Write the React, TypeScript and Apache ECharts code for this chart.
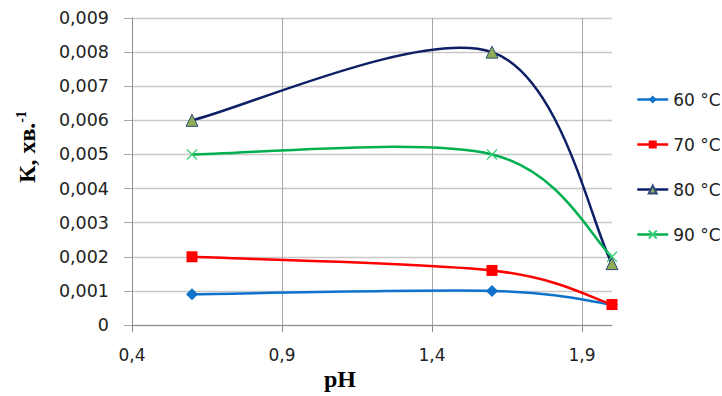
import React, { useEffect, useRef } from "react";
import * as echarts from "echarts";

const pH = [0.6, 1.6, 2.0];
const k60 = [0.0009, 0.001, 0.0006];
const k70 = [0.002, 0.0016, 0.0006];
const k80 = [0.006, 0.008, 0.0018];
const k90 = [0.005, 0.005, 0.002];
const seriesNames = ["60 °C", "70 °C", "80 °C", "90 °C"];
const seriesValues = [k60, k70, k80, k90];
const lineColors = ["#0f73cc", "#ff0000", "#0e1f66", "#00b050"];
const xTicks = [0.4, 0.9, 1.4, 1.9];

const X_SYMBOL = "path://M0,0L10,10M10,0L0,10";

export default function App() {
  const ref = useRef<HTMLDivElement>(null);
  useEffect(() => {
    if (!ref.current) return;
    const chart = echarts.init(ref.current, null, { renderer: "svg" });
    const pts = (ys: number[]) => pH.map((x, i) => [x, ys[i]]);
    const font = "DejaVu Sans";

    // Excel-style smoothed line (Catmull-Rom as cubic Bezier), drawn per segment
    const curveSeries = (ys: number[], color: string, idx: number) => ({
      name: "curve" + idx,
      type: "custom",
      z: 2,
      data: pts(ys),
      renderItem: (params: any, api: any) => {
        const i = params.dataIndex;
        const n = ys.length;
        if (i >= n - 1) return null;
        const P = (j: number) => {
          const jj = Math.max(0, Math.min(n - 1, j));
          return api.coord([pH[jj], ys[jj]]);
        };
        const p0 = P(i - 1), p1 = P(i), p2 = P(i + 1), p3 = P(i + 2);
        return {
          type: "bezierCurve",
          shape: {
            x1: p1[0], y1: p1[1],
            cpx1: p1[0] + (p2[0] - p0[0]) / 6,
            cpy1: p1[1] + (p2[1] - p0[1]) / 6,
            cpx2: p2[0] - (p3[0] - p1[0]) / 6,
            cpy2: p2[1] - (p3[1] - p1[1]) / 6,
            x2: p2[0], y2: p2[1],
          },
          style: { stroke: color, lineWidth: 2.5, fill: null },
        };
      },
    });

    const markerDefs = [
      { symbol: "diamond", size: 12, itemStyle: { color: lineColors[0] } },
      { symbol: "rect", size: 11, itemStyle: { color: lineColors[1] } },
      { symbol: "triangle", size: 12, itemStyle: { color: "#8fac57", borderColor: "#2f4a7a", borderWidth: 1 } },
      { symbol: X_SYMBOL, size: 10, itemStyle: { color: "transparent", borderColor: "#3ccf7a", borderWidth: 1.3 } },
    ];

    const markerSeries = seriesNames.map((name, k) => ({
      name,
      type: "line",
      z: 3,
      data: pts(seriesValues[k]),
      symbol: markerDefs[k].symbol,
      symbolSize: markerDefs[k].size,
      showSymbol: true,
      lineStyle: { color: lineColors[k], width: 2.5, opacity: 0 },
      itemStyle: markerDefs[k].itemStyle,
    }));

    chart.setOption({
      animation: false,
      backgroundColor: "#ffffff",
      grid: { left: 132, right: 110, top: 18, bottom: 71, containLabel: false },
      xAxis: {
        type: "value",
        min: 0.4,
        max: 2.0,
        interval: 0.5,
        axisLine: { show: true, lineStyle: { color: "#8c8c8c" } },
        axisTick: { show: true, length: 7, customValues: xTicks, lineStyle: { color: "#8c8c8c" } },
        splitLine: { show: true, lineStyle: { color: "#a6a6a6", width: 1 } },
        axisLabel: {
          customValues: xTicks,
          margin: 21,
          fontFamily: font,
          fontSize: 17,
          color: "#222",
          formatter: (v: number) => v.toFixed(1).replace(".", ","),
        },
      },
      yAxis: {
        type: "value",
        min: 0,
        max: 0.009,
        interval: 0.001,
        axisLine: { show: true, lineStyle: { color: "#8c8c8c" } },
        axisTick: { show: true, length: 8, lineStyle: { color: "#a6a6a6" } },
        splitLine: { show: true, lineStyle: { color: "#c8c8c8", width: 1.4 } },
        axisLabel: {
          margin: 23,
          fontFamily: font,
          fontSize: 17.5,
          color: "#222",
          formatter: (v: number) => (Math.abs(v) < 1e-9 ? "0" : v.toFixed(3).replace(".", ",")),
        },
      },
      graphic: [
        {
          type: "text",
          x: 27,
          y: 147,
          rotation: Math.PI / 2,
          style: {
            text: "{a|К, хв.}{s|-1}",
            align: "center",
            verticalAlign: "middle",
            rich: {
              a: { fontFamily: "Liberation Serif", fontWeight: "bold", fontSize: 24, fill: "#000" },
              s: { fontFamily: "Liberation Serif", fontWeight: "bold", fontSize: 14, fill: "#000", verticalAlign: "top", padding: [0, 0, 12, 0] },
            },
          },
        },
        {
          type: "text",
          x: 340,
          y: 379,
          style: {
            text: "pH",
            align: "center",
            verticalAlign: "middle",
            fontFamily: "Liberation Serif",
            fontWeight: "bold",
            fontSize: 24,
            fill: "#000",
          },
        },
      ],
      legend: {
        orient: "vertical",
        left: 636,
        top: 91,
        padding: 0,
        itemGap: 28,
        itemWidth: 31,
        itemHeight: 10,
        textStyle: { fontFamily: font, fontSize: 17, color: "#222" },
        data: seriesNames.map((name, k) => ({
          name,
          lineStyle: { color: lineColors[k], width: 2.5, opacity: 1 },
        })),
      },
      series: [
        ...seriesValues.map((ys, k) => curveSeries(ys, lineColors[k], k)),
        ...markerSeries,
      ],
    });
    return () => chart.dispose();
  }, []);
  return <div ref={ref} style={{ width: 722, height: 396, position: "absolute", left: 0, top: 0 }} />;
}
